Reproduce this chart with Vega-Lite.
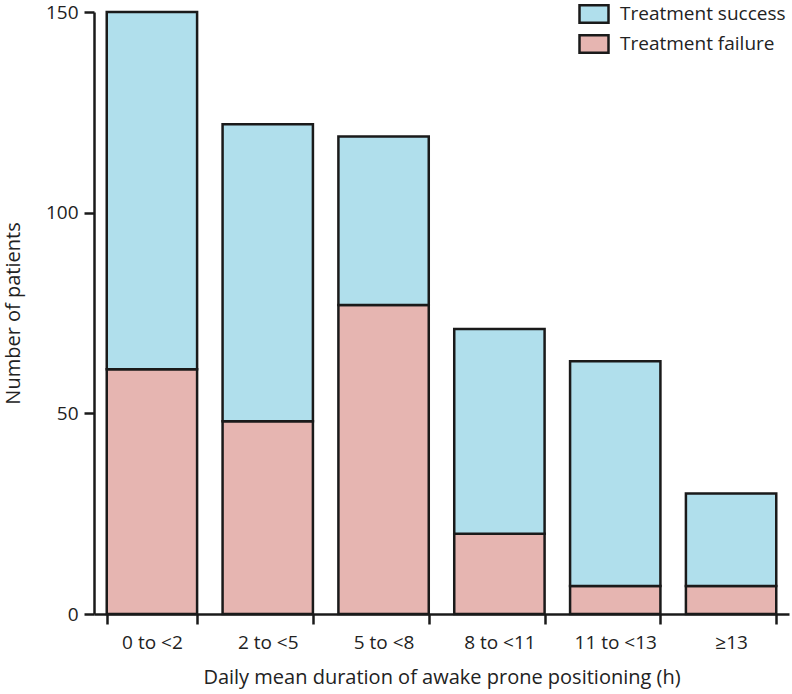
{
  "$schema": "https://vega.github.io/schema/vega-lite/v6.json",
  "autosize": "none",
  "width": 695,
  "height": 602,
  "padding": {"left": 94, "top": 12, "right": 3, "bottom": 80},
  "background": "white",
  "config": {
    "view": {"stroke": null},
    "font": "Open Sans",
    "axis": {"grid": false, "domainColor": "#1a1a1a", "domainWidth": 2.5, "tickColor": "#1a1a1a", "tickWidth": 2.5, "labelColor": "#222", "titleColor": "#222", "labelFontSize": 19, "titleFontSize": 20, "labelFont": "Open Sans", "titleFont": "Open Sans", "titleFontWeight": "normal"}
  },
  "data": {
    "values": [
      {"group": "0 to <2", "outcome": "Treatment failure", "n": 61, "ord": 1},
      {"group": "0 to <2", "outcome": "Treatment success", "n": 89, "ord": 2},
      {"group": "2 to <5", "outcome": "Treatment failure", "n": 48, "ord": 1},
      {"group": "2 to <5", "outcome": "Treatment success", "n": 74, "ord": 2},
      {"group": "5 to <8", "outcome": "Treatment failure", "n": 77, "ord": 1},
      {"group": "5 to <8", "outcome": "Treatment success", "n": 42, "ord": 2},
      {"group": "8 to <11", "outcome": "Treatment failure", "n": 20, "ord": 1},
      {"group": "8 to <11", "outcome": "Treatment success", "n": 51, "ord": 2},
      {"group": "11 to <13", "outcome": "Treatment failure", "n": 7, "ord": 1},
      {"group": "11 to <13", "outcome": "Treatment success", "n": 56, "ord": 2},
      {"group": "≥13", "outcome": "Treatment failure", "n": 7, "ord": 1},
      {"group": "≥13", "outcome": "Treatment success", "n": 23, "ord": 2}
    ]
  },
  "mark": {"type": "bar", "stroke": "#1a1a1a", "strokeWidth": 2.5},
  "encoding": {
    "x": {
      "field": "group", "type": "nominal", "sort": null,
      "scale": {"paddingInner": 0.22, "paddingOuter": 0.11},
      "axis": {"labelAngle": 0, "tickBand": "extent", "tickSize": 10, "labelPadding": 9, "titlePadding": 15, "title": "Daily mean duration of awake prone positioning (h)"}
    },
    "y": {
      "field": "n", "type": "quantitative", "stack": "zero",
      "scale": {"domain": [0, 150], "nice": false},
      "axis": {"values": [0, 50, 100, 150], "tickSize": 10, "labelPadding": 6, "titlePadding": 22, "title": "Number of patients"}
    },
    "color": {
      "field": "outcome", "type": "nominal",
      "scale": {"domain": ["Treatment success", "Treatment failure"], "range": ["#b0dfec", "#e6b5b1"]},
      "legend": {
        "title": null, "orient": "none", "legendX": 484, "legendY": -14,
        "symbolType": "M-1,-0.6H1V0.6H-1Z", "symbolSize": 841, "symbolStrokeColor": "#1a1a1a", "symbolStrokeWidth": 2.5,
        "labelFontSize": 19, "labelLimit": 300, "labelColor": "#222", "labelFont": "Open Sans", "labelOffset": 10, "rowPadding": 0, "padding": 0
      }
    },
    "order": {"field": "ord", "type": "quantitative"}
  }
}
